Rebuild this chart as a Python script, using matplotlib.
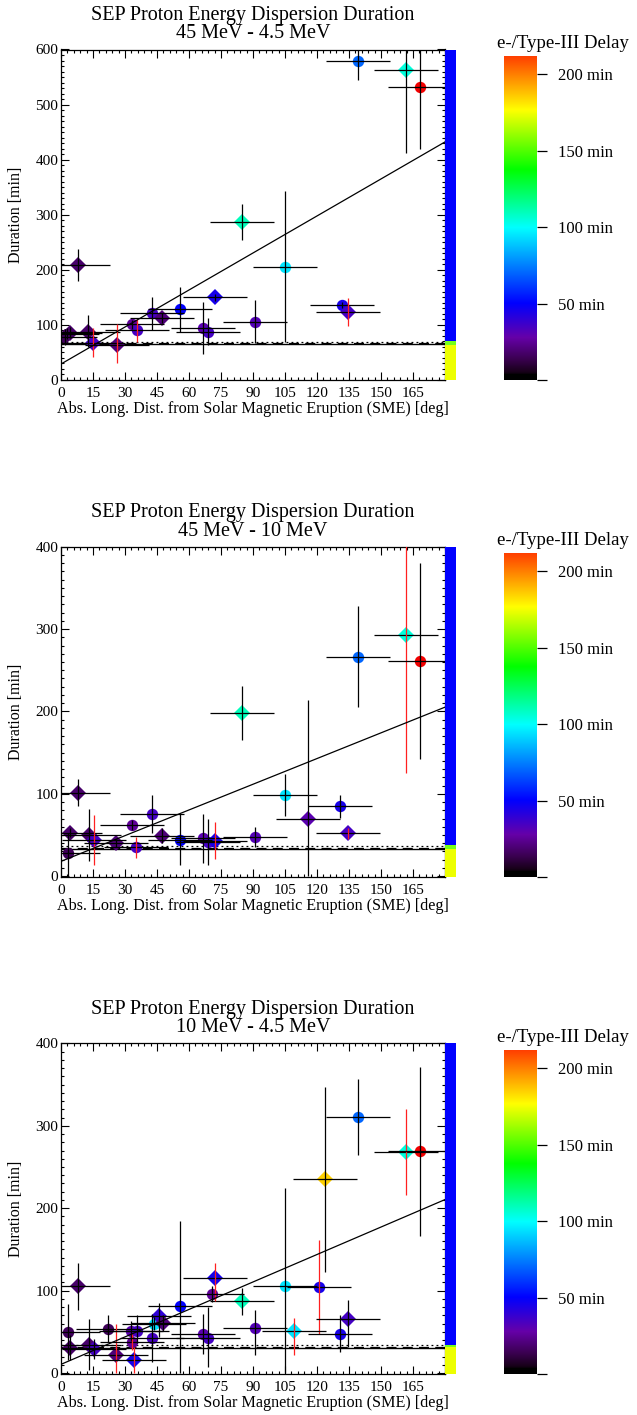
import numpy as np
import matplotlib
matplotlib.use('Agg')
import matplotlib.pyplot as plt
from matplotlib.colors import LinearSegmentedColormap, Normalize
from matplotlib.ticker import MultipleLocator

plt.rcParams['font.family'] = ['Liberation Serif', 'DejaVu Serif']

# ---------------- data ----------------
titles = ["SEP Proton Energy Dispersion Duration\n45 MeV - 4.5 MeV",
          "SEP Proton Energy Dispersion Duration\n45 MeV - 10 MeV",
          "SEP Proton Energy Dispersion Duration\n10 MeV - 4.5 MeV"]
xlabel = "Abs. Long. Dist. from Solar Magnetic Eruption (SME) [deg]"
ylabel = "Duration [min]"
cbar_title = "e-/Type-III Delay"
cbar_ticks = [0, 50, 100, 150, 200]
cbar_labels = ["", "50 min", "100 min", "150 min", "200 min"]
xticks = [0, 15, 30, 45, 60, 75, 90, 105, 120, 135, 150, 165]

# panel 1 : 45 - 4.5 MeV
p1_x = [139, 161.8, 168.2, 84.7, 105.1, 7.8, 72, 56, 42.7, 47.5, 33.3, 35.5, 66.7, 69, 91, 131.5, 134.6, 2.0, 3.0, 4.2, 12.8, 15.1, 26.1]
p1_y = [580, 562, 532, 287, 206, 208, 150, 128.5, 121, 112, 101, 90, 95, 87, 106, 136, 124, 78, 84, 86, 88, 68, 64]
p1_ylo = [35, 150, 112, 32, 137, 29, 7, 41, 30, 9, 8, 21, 47, 24, 39, 5, 26, 15, 10, 10, 28, 26, 34]
p1_yhi = [25, 60, 80, 33, 138, 29, 7, 41, 30, 9, 8, 21, 47, 25, 39, 5, 25, 15, 10, 10, 30, 26, 38]
p1_delay = [70, 105, 230, 110, 95, 18, 45, 50, 35, 20, 25, 35, 30, 35, 32, 45, 35, 15, 15, 18, 18, 35, 20]
p1_mark = ['o', 'D', 'o', 'D', 'o', 'D', 'D', 'o', 'o', 'D', 'o', 'o', 'o', 'o', 'o', 'o', 'D', 'D', 'o', 'D', 'D', 'D', 'D']
p1_ecol = ['k', 'k', 'k', 'k', 'k', 'k', 'k', 'k', 'k', 'k', 'k', 'r', 'k', 'k', 'k', 'k', 'r', 'k', 'k', 'k', 'k', 'r', 'r']

# panel 2 : 45 - 10 MeV
p2_x = [139, 161.8, 168.2, 84.7, 105.1, 115.9, 131, 134.3, 7.8, 42.7, 33.5, 47.5, 56, 66.5, 68.8, 72, 91, 4.2, 3.1, 13, 15.4, 26, 35]
p2_y = [266, 293, 261, 198, 99, 70, 85, 52, 101, 75, 62, 49, 44, 46, 42, 43, 48, 53, 28, 50, 44, 40, 35]
p2_ylo = [61, 168, 119, 33, 26, 70, 14, 7, 16, 23, 6, 9, 31, 30, 29, 22, 12, 6, 28, 32, 30, 5, 13]
p2_yhi = [62, 110, 119, 33, 25, 144, 14, 7, 17, 24, 6, 9, 32, 30, 28, 23, 12, 6, 24, 32, 30, 5, 12]
p2_delay = [70, 105, 230, 110, 95, 30, 45, 35, 18, 35, 25, 20, 50, 30, 35, 45, 32, 18, 15, 18, 35, 20, 35]
p2_mark = ['o', 'D', 'o', 'D', 'o', 'D', 'o', 'D', 'D', 'o', 'o', 'D', 'o', 'o', 'o', 'D', 'o', 'D', 'o', 'D', 'D', 'D', 'o']
p2_ecol = ['k', 'r', 'k', 'k', 'k', 'k', 'k', 'r', 'k', 'k', 'k', 'k', 'k', 'k', 'k', 'r', 'k', 'k', 'k', 'k', 'r', 'k', 'r']

# panel 3 : 10 - 4.5 MeV
p3_x = [139, 161.8, 168.2, 123.8, 105.1, 121, 109.3, 91, 131, 134.3, 84.7, 72, 70.7, 56, 66.5, 68.8, 7.8, 3.1, 4.2, 13, 15.4, 21.8, 26, 32.6, 35.4, 33.3, 34.3, 42.7, 43.5, 45.8, 47.8]
p3_y = [311, 268.5, 269, 235, 106, 105, 51.5, 55, 48, 66, 87, 115, 96, 81, 47, 43, 106, 50, 31, 34, 29, 54, 22, 51, 51, 38, 16, 43, 60, 69, 61]
p3_ylo = [46, 52, 103, 112, 106, 58, 29, 33, 22, 34, 16, 27, 10, 81, 24, 35, 29, 34, 15, 30, 12, 16, 22, 12, 15, 10, 16, 29, 8, 25, 10]
p3_yhi = [46, 52, 102, 112, 118, 57, 15, 21, 22, 23, 16, 19, 10, 103, 25, 37, 28, 34, 15, 32, 12, 16, 38, 12, 20, 10, 16, 29, 8, 16, 10]
p3_delay = [70, 105, 230, 185, 95, 45, 95, 32, 45, 35, 110, 45, 25, 50, 30, 35, 18, 15, 18, 18, 35, 15, 20, 30, 35, 25, 45, 35, 95, 40, 20]
p3_mark = ['o', 'D', 'o', 'D', 'o', 'o', 'D', 'o', 'o', 'D', 'D', 'D', 'o', 'o', 'o', 'o', 'D', 'o', 'D', 'D', 'D', 'o', 'D', 'o', 'o', 'o', 'D', 'o', 'o', 'D', 'D']
p3_ecol = ['k', 'r', 'k', 'k', 'k', 'r', 'r', 'k', 'k', 'k', 'k', 'r', 'k', 'k', 'k', 'k', 'k', 'k', 'k', 'k', 'k', 'k', 'r', 'k', 'k', 'r', 'r', 'k', 'k', 'k', 'k']

xerr_half = 15
# linear fits (intercept, slope)
fit_a = [29, 18, 10.7]
fit_b = [2.24, 1.04, 1.11]
# reference levels (solid, dashed, dotted)
ref_solid = [65.5, 33, 30]
ref_dash = [67, 34.5, 31.5]
ref_dot = [69.5, 37, 34]
# side bar bands (yellow top, green top)
band_lo = [63.6, 33, 31.4]
band_hi = [71.5, 37.3, 34.2]
ylims = [(0, 600), (-1, 400), (-1, 400)]
ymajor = [100, 100, 100]

panels = [
    (p1_x, p1_y, p1_ylo, p1_yhi, p1_delay, p1_mark, p1_ecol),
    (p2_x, p2_y, p2_ylo, p2_yhi, p2_delay, p2_mark, p2_ecol),
    (p3_x, p3_y, p3_ylo, p3_yhi, p3_delay, p3_mark, p3_ecol),
]

# ---------------- colormap ----------------
cmap = LinearSegmentedColormap.from_list('idlrainbow', [
    (0.0, (0, 0, 0)), (0.018, (0, 0, 0)), (0.02, (0.08, 0, 0.08)),
    (0.06, (0.22, 0.0, 0.30)), (0.13, (0.40, 0.0, 0.66)),
    (0.236, (0, 0, 1)), (0.47, (0, 1, 1)),
    (0.65, (0, 1, 0)), (0.835, (1, 1, 0)), (1.0, (1, 0.25, 0))])
cmap.set_over((0.95, 0.0, 0.0))
norm = Normalize(0, 212)

W, H = 637, 1415
fig = plt.figure(figsize=(W / 100, H / 100), dpi=100)

def fx(px):
    return px / W

def fy(py):
    return 1 - py / H

ax_left, ax_right = 61, 445
panel_tb = [(49.5, 380), (546.7, 877), (1043.3, 1374)]
cbar_tb = [(56, 380), (553, 877), (1050, 1374)]

for k, (px, py, ylo, yhi, dly, mk, ec) in enumerate(panels):
    top, bot = panel_tb[k]
    ax = fig.add_axes([fx(ax_left), fy(bot), fx(ax_right - ax_left), (bot - top) / H])
    ax.set_xlim(0, 180)
    ax.set_ylim(*ylims[k])

    # reference levels
    ax.axhline(ref_solid[k], color='k', lw=1.0, zorder=1)
    ax.axhline(ref_dash[k], color='k', lw=0.9, ls=(0, (8, 5)), zorder=1)
    ax.axhline(ref_dot[k], color='k', lw=0.9, ls=(0, (1.5, 2.5)), zorder=1)

    # fit line
    xs = np.array([0, 180])
    ax.plot(xs, fit_a[k] + fit_b[k] * xs, color='k', lw=0.9, zorder=4)

    for i in range(len(px)):
        col = cmap(norm(dly[i]))
        ms = 8.2 if mk[i] == 'o' else 8.6
        ax.plot([px[i]], [py[i]], marker=mk[i], ms=ms, color=col, mew=0, ls='none', zorder=2)
        ax.errorbar([px[i]], [py[i]], xerr=xerr_half, fmt='none', ecolor='k', elinewidth=0.9, capsize=0, zorder=3)
        ax.errorbar([px[i]], [py[i]], yerr=[[ylo[i]], [yhi[i]]], fmt='none',
                    ecolor=('#ff2020' if ec[i] == 'r' else 'k'), elinewidth=0.9, capsize=0, zorder=3)

    ax.set_xticks(xticks)
    ax.xaxis.set_minor_locator(MultipleLocator(3))
    ax.yaxis.set_major_locator(MultipleLocator(ymajor[k]))
    ax.yaxis.set_minor_locator(MultipleLocator(10))
    ax.tick_params(which='both', direction='in', top=True, right=True, labelsize=11, colors='k')
    ax.tick_params(which='major', length=5.5, width=0.8)
    ax.tick_params(which='minor', length=2.5, width=0.8)
    ax.tick_params(axis='x', pad=5)
    ax.tick_params(axis='y', pad=2)
    for s in ax.spines.values():
        s.set_linewidth(0.9)
    ax.set_title(titles[k], fontsize=14.5, linespacing=0.95, pad=8)
    ax.set_ylabel(ylabel, fontsize=11.5, labelpad=8)
    ax.set_xlabel(xlabel, fontsize=11.6, labelpad=1)

    # side bar
    sax = fig.add_axes([fx(ax_right), fy(bot), fx(11), (bot - top) / H])
    sax.set_ylim(*ylims[k])
    sax.set_xlim(0, 1)
    sax.axhspan(ylims[k][0], band_lo[k], color=(0.93, 1.0, 0.0), lw=0)
    sax.axhspan(band_lo[k], band_hi[k], color=(0.45, 1.0, 0.1), lw=0)
    sax.axhspan(band_hi[k], ylims[k][1], color=(0, 0, 1), lw=0)
    sax.axis('off')

    # colorbar
    ct, cb = cbar_tb[k]
    cax = fig.add_axes([fx(504), fy(cb), fx(33), (cb - ct) / H])
    grad = np.linspace(0, 212, 512)
    cax.imshow(grad[:, None], aspect='auto', origin='lower', extent=[0, 1, 0, 212], cmap=cmap, norm=norm)
    cax.set_xlim(0, 1)
    cax.set_ylim(0, 212)
    cax.set_xticks([])
    cax.yaxis.tick_right()
    cax.set_yticks(cbar_ticks)
    cax.set_yticklabels(cbar_labels)
    cax.tick_params(axis='y', direction='out', length=7, width=0.9, labelsize=12, pad=8)
    for s in cax.spines.values():
        s.set_visible(False)
    fig.text(fx(563), fy(ct - 13), cbar_title, fontsize=13.5, ha='center', va='center')

fig.savefig('out.png', dpi=100)
